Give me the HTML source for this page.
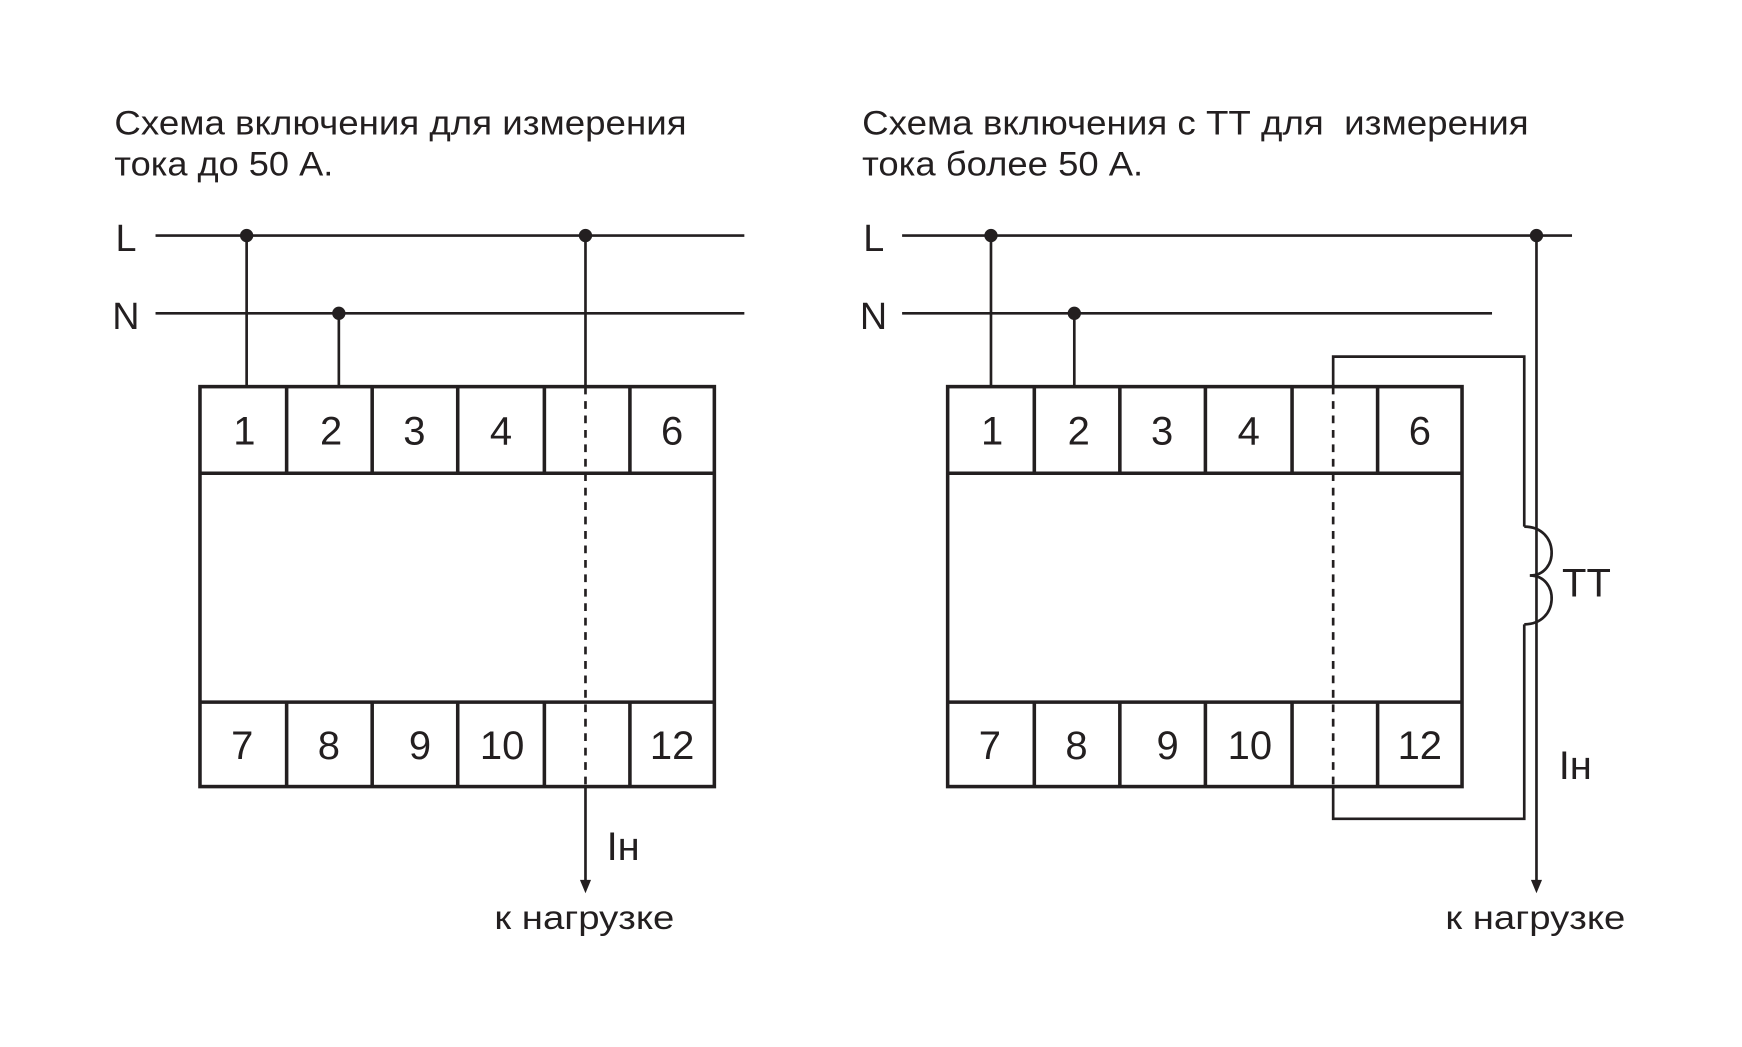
<!DOCTYPE html>
<html><head><meta charset="utf-8"><style>html,body{margin:0;padding:0;background:#fff}svg{display:block}text{font-family:"Liberation Sans","DejaVu Sans",sans-serif;fill:#231f20}</style></head>
<body>
<svg width="1742" height="1047" viewBox="0 0 1568 942.4" xmlns="http://www.w3.org/2000/svg">
<rect width="1568" height="942.4" fill="#fff"/>
<g font-size="31">
<text x="103" y="121" textLength="515" lengthAdjust="spacingAndGlyphs">Схема включения для измерения</text>
<text x="103" y="158" textLength="197" lengthAdjust="spacingAndGlyphs">тока до 50 А.</text>
<text x="776" y="121" textLength="600" lengthAdjust="spacingAndGlyphs" xml:space="preserve">Схема включения с ТТ для  измерения</text>
<text x="776" y="158" textLength="253" lengthAdjust="spacingAndGlyphs">тока более 50 А.</text>
</g>
<g font-size="34" font-weight="normal">
<text x="104" y="226">L</text><text x="101" y="296">N</text>
<text x="777" y="226">L</text><text x="774" y="296">N</text>
</g>
<g stroke="#231f20" fill="none" stroke-width="2.4">
<line x1="140" y1="212" x2="670" y2="212"/>
<line x1="140" y1="282" x2="670" y2="282"/>
<line x1="222" y1="212" x2="222" y2="348"/>
<line x1="305" y1="282" x2="305" y2="348"/>
<line x1="527" y1="212" x2="527" y2="348"/>
<line x1="527" y1="708" x2="527" y2="795"/>
<g stroke-width="3.2">
<rect x="180" y="348" width="463" height="360"/>
<line x1="180" y1="426" x2="643" y2="426"/>
<line x1="180" y1="632" x2="643" y2="632"/>
<path d="M258 348V426M335 348V426M412 348V426M490 348V426M567 348V426M258 632V708M335 632V708M412 632V708M490 632V708M567 632V708"/>
</g>
<line x1="527" y1="348" x2="527" y2="708" stroke-dasharray="7,6"/>
<line x1="812" y1="212" x2="1415" y2="212"/>
<line x1="812" y1="282" x2="1343" y2="282"/>
<line x1="892" y1="212" x2="892" y2="348"/>
<line x1="967" y1="282" x2="967" y2="348"/>
<line x1="1383" y1="212" x2="1383" y2="795"/>
<g stroke-width="3.2">
<rect x="853" y="348" width="463" height="360"/>
<line x1="853" y1="426" x2="1316" y2="426"/>
<line x1="853" y1="632" x2="1316" y2="632"/>
<path d="M931 348V426M1008 348V426M1085 348V426M1163 348V426M1240 348V426M931 632V708M1008 632V708M1085 632V708M1163 632V708M1240 632V708"/>
</g>
<path d="M1200 348V321H1372V474"/>
<path d="M1200 708V737H1372V562"/>
<path d="M1372 474C1404 474 1404 518 1377 518C1404 518 1404 562 1372 562"/>
<line x1="1200" y1="348" x2="1200" y2="708" stroke-dasharray="7,6"/>
</g>
<g fill="#231f20">
<circle cx="222" cy="212" r="6"/><circle cx="527" cy="212" r="6"/><circle cx="305" cy="282" r="6"/>
<circle cx="892" cy="212" r="6"/><circle cx="1383" cy="212" r="6"/><circle cx="967" cy="282" r="6"/>
<path d="M522 792L532 792L527 804Z"/>
<path d="M1378 792L1388 792L1383 804Z"/>
</g>
<g font-size="36" text-anchor="middle">
<text x="220" y="400">1</text><text x="298" y="400">2</text><text x="373" y="400">3</text><text x="451" y="400">4</text><text x="605" y="400">6</text>
<text x="218" y="683">7</text><text x="296" y="683">8</text><text x="378" y="683">9</text><text x="452" y="683">10</text><text x="605" y="683">12</text>
<text x="893" y="400">1</text><text x="971" y="400">2</text><text x="1046" y="400">3</text><text x="1124" y="400">4</text><text x="1278" y="400">6</text>
<text x="891" y="683">7</text><text x="969" y="683">8</text><text x="1051" y="683">9</text><text x="1125" y="683">10</text><text x="1278" y="683">12</text>
</g>
<g font-size="36">
<text x="546" y="774">Iн</text>
<text x="1403" y="701">Iн</text>
<text x="1406" y="537">ТТ</text>
</g>
<g font-size="30">
<text x="445" y="836" textLength="162" lengthAdjust="spacingAndGlyphs">к нагрузке</text>
<text x="1301" y="836" textLength="162" lengthAdjust="spacingAndGlyphs">к нагрузке</text>
</g>
</svg>
</body></html>
